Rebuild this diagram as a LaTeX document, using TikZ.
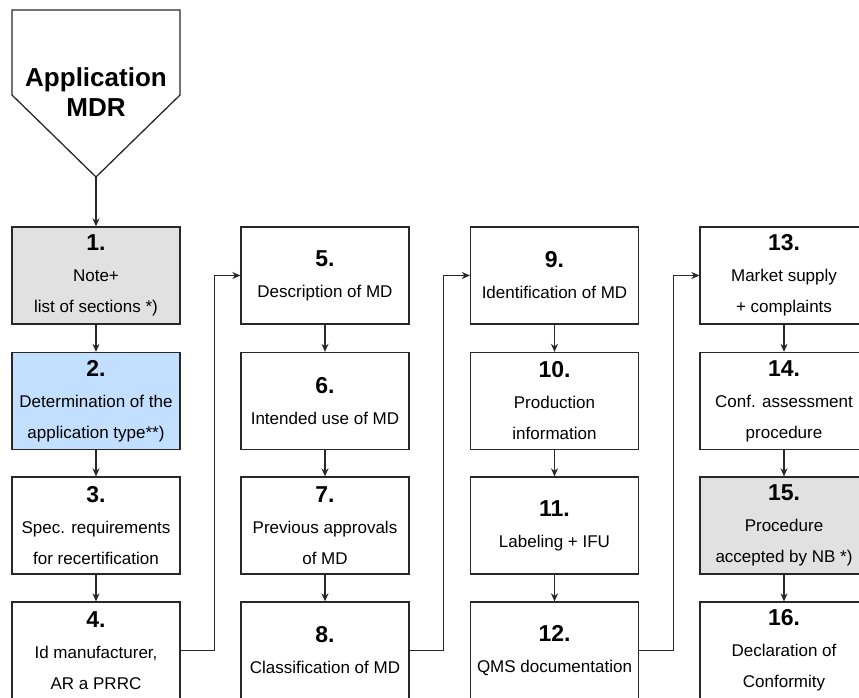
\documentclass[tikz,border=0pt]{standalone}
\usepackage{fontspec}
\setmainfont{Liberation Sans}
\usetikzlibrary{arrows.meta}
\definecolor{notegray}{RGB}{225,225,225}
\definecolor{typeblue}{RGB}{195,223,255}
\definecolor{edge}{RGB}{40,40,40}
\tikzset{
  stepbox/.style={draw=edge, line width=1.3pt, fill=white, minimum width=168pt, minimum height=97pt,
    inner sep=0pt, align=center, font=\fontsize{17}{31}\selectfont},
  graybox/.style={stepbox, fill=notegray},
  bluebox/.style={stepbox, fill=typeblue},
  flow/.style={->, line width=1.2pt, draw=edge}
}
\newcommand{\nr}[1]{{\fontsize{23}{31}\selectfont\bfseries #1}}
\begin{document}
\begin{tikzpicture}[x=1pt, y=-1pt, >={Stealth[length=8pt,width=7pt,inset=2.5pt]}]
  \path[use as bounding box] (0,0) rectangle (859,698);
  \clip (0,0) rectangle (859,698);
  % --- Einstieg ---
  \draw[line width=1.3pt, draw=edge] (12,10) -- (180,10) -- (180,95) -- (96,177) -- (12,95) -- cycle;
  \coordinate (tip) at (96,177);
  \node[align=center, font=\fontsize{26}{30}\selectfont\bfseries] (app) at (96,92) {Application\\MDR};

  % --- Spalte 1 ---
  \node[graybox] (n1) at (96,275.5) {\nr{1.}\\Note+\\list of sections *)};
  \node[bluebox] (n2) at (96,401) {\nr{2.}\\Determination of the\\application type**)};
  \node[stepbox] (n3) at (96,525.5) {\nr{3.}\\Spec. requirements\\for recertification};
  \node[stepbox] (n4) at (96,650.5) {\nr{4.}\\Id manufacturer,\\AR a PRRC};

  % --- Spalte 2 ---
  \node[stepbox] (n5) at (325,275.5) {\nr{5.}\\Description of MD};
  \node[stepbox] (n6) at (325,401) {\nr{6.}\\Intended use of MD};
  \node[stepbox] (n7) at (325,525.5) {\nr{7.}\\Previous approvals\\of MD};
  \node[stepbox] (n8) at (325,650.5) {\nr{8.}\\Classification of MD};

  % --- Spalte 3 ---
  \node[stepbox] (n9) at (554.5,275.5) {\nr{9.}\\Identification of MD};
  \node[stepbox] (n10) at (554.5,401) {\nr{10.}\\Production\\information};
  \node[stepbox] (n11) at (554.5,525.5) {\nr{11.}\\Labeling + IFU};
  \node[stepbox] (n12) at (554.5,650.5) {\nr{12.}\\QMS documentation};

  % --- Spalte 4 ---
  \node[stepbox] (n13) at (784,275.5) {\nr{13.}\\Market supply\\+ complaints};
  \node[stepbox] (n14) at (784,401) {\nr{14.}\\Conf. assessment\\procedure};
  \node[graybox] (n15) at (784,525.5) {\nr{15.}\\Procedure\\accepted by NB *)};
  \node[stepbox] (n16) at (784,650.5) {\nr{16.}\\Declaration of\\Conformity};

  % --- Pfeile ---
  \draw[flow] (tip) -- (n1);
  \draw[flow] (n1) -- (n2);
  \draw[flow] (n2) -- (n3);
  \draw[flow] (n3) -- (n4);
  \draw[flow] (n5) -- (n6);
  \draw[flow] (n6) -- (n7);
  \draw[flow] (n7) -- (n8);
  \draw[flow] (n9) -- (n10);
  \draw[flow] (n10) -- (n11);
  \draw[flow] (n11) -- (n12);
  \draw[flow] (n13) -- (n14);
  \draw[flow] (n14) -- (n15);
  \draw[flow] (n15) -- (n16);
  \draw[flow] (n4.east) -- ++(34,0) |- (n5.west);
  \draw[flow] (n8.east) -- ++(34,0) |- (n9.west);
  \draw[flow] (n12.east) -- ++(34,0) |- (n13.west);
\end{tikzpicture}
\end{document}
